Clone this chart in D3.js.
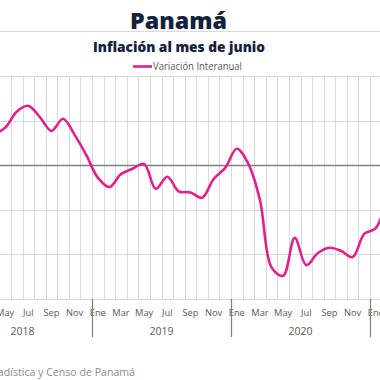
<!DOCTYPE html>
<meta charset="utf-8">
<style>
 body { margin: 0; background: #fff; }
 svg { display: block; font-family: "Open Sans", "DejaVu Sans", sans-serif; }
 .grid line { stroke: #d9d9d9; stroke-width: 1; }
 .grid line.zero { stroke: #808080; stroke-width: 1.5; }
 .serie { fill: none; stroke: #e0218a; stroke-width: 2.6; }
 .mes, .anio { fill: #595959; font-size: 9.3px; text-anchor: middle; }
 .anio { font-size: 10.5px; }
 .divisor { stroke: #7f7f7f; stroke-width: 1.2; }
</style>
<svg width="380" height="380"></svg>
<script src="https://d3js.org/d3.v7.min.js"></script>
<script>

 var meses = ["Ene", "Feb", "Mar", "Abr", "May", "Jun", "Jul", "Ago", "Sep", "Oct", "Nov", "Dic"];
 var anios = [2018, 2019, 2020, 2021];
 var mesesUltimoAnio = 4;
 var etiquetasCada = 2;

 // variación interanual (%) desde marzo 2018
 var inicioSerie = "2018-03";
 var variacion = [0.80, 0.72, 0.84, 1.20, 1.33, 1.08, 0.77, 1.04, 0.68, 0.23,
                  -0.28, -0.49, -0.20, -0.08, 0.03, -0.53, -0.26, -0.59, -0.61, -0.73, -0.31, -0.06,
                  0.37, 0.03, -0.78, -2.29, -2.48, -1.63, -2.24, -1.97, -1.85, -1.92, -2.06, -1.54,
                  -1.41, -0.70];
 var yTicks = [-3, -2, -1, 0, 1, 2];

 var svg = d3.select("svg");

 var periodos = [];
 anios.forEach(function(a, i) {
   var n = i == anios.length - 1 ? mesesUltimoAnio : 12;
   for (var m = 0; m < n; m++) periodos.push({ key: a + "-" + String(m + 1).padStart(2, "0"), anio: a, mes: m });
 });

 // the visible window is a crop of a wider chart: enero 2019 sits at x=92
 var bw = 139 / 12;
 var x0 = 92 - 12 * bw;
 var x = d3.scaleBand()
           .domain(periodos.map(function(d) { return d.key; }))
           .range([x0, x0 + periodos.length * bw])
           .paddingInner(0).paddingOuter(0);

 var y = d3.scaleLinear().domain([-3, 2]).range([299, 76]);

 // titles
 svg.append("text").text("Panamá")
    .attr("x", 178.5).attr("y", 28.5)
    .attr("text-anchor", "middle")
    .attr("textLength", 97).attr("lengthAdjust", "spacingAndGlyphs")
    .style("font-size", "23px").style("font-weight", "800").style("fill", "#14213d");

 svg.append("line").attr("x1", 0).attr("x2", 380).attr("y1", 31.5).attr("y2", 31.5)
    .style("stroke", "#d9d9d9");

 svg.append("text").text("Inflación al mes de junio")
    .attr("x", 179).attr("y", 51.5)
    .attr("text-anchor", "middle")
    .attr("textLength", 172).attr("lengthAdjust", "spacingAndGlyphs")
    .style("font-size", "14px").style("font-weight", "800").style("fill", "#14213d");

 // legend
 var leg = svg.append("g").attr("transform", "translate(133,66.5)");
 leg.append("line").attr("x1", 0).attr("x2", 19).attr("class", "serie");
 leg.append("text").text("Variación Interanual")
    .attr("x", 20).attr("dy", "0.35em")
    .attr("textLength", 89).attr("lengthAdjust", "spacingAndGlyphs")
    .style("font-size", "10px").style("fill", "#595959");

 // grid
 var grid = svg.append("g").attr("class", "grid");
 grid.selectAll("line.v")
     .data(periodos.slice(1))
     .enter().append("line")
     .attr("class", "v")
     .attr("x1", function(d) { return Math.round(x(d.key)) + 0.5; })
     .attr("x2", function(d) { return Math.round(x(d.key)) + 0.5; })
     .attr("y1", y(2)).attr("y2", y(-3));

 grid.selectAll("line.h")
     .data(yTicks)
     .enter().append("line")
     .attr("class", function(d) { return d == 0 ? "h zero" : "h"; })
     .attr("x1", 0).attr("x2", 380)
     .attr("y1", function(d) { return Math.round(y(d)) + 0.5; })
     .attr("y2", function(d) { return Math.round(y(d)) + 0.5; });

 // x axis labels
 svg.selectAll("text.mes")
    .data(periodos.filter(function(d) { return d.mes % etiquetasCada == 0; }))
    .enter().append("text")
    .attr("class", "mes")
    .attr("x", function(d) { return x(d.key) + bw / 2; })
    .attr("y", 316)
    .text(function(d) { return meses[d.mes]; });

 var porAnio = d3.groups(periodos, function(d) { return d.anio; });

 svg.selectAll("text.anio")
    .data(porAnio)
    .enter().append("text")
    .attr("class", "anio")
    .attr("x", function(d) { return x(d[1][0].key) + d[1].length * bw / 2; })
    .attr("y", 334.5)
    .text(function(d) { return d[0]; });

 svg.selectAll("line.divisor")
    .data(porAnio.slice(1))
    .enter().append("line")
    .attr("class", "divisor")
    .attr("x1", function(d) { return Math.round(x(d[1][0].key)) + 0.5; })
    .attr("x2", function(d) { return Math.round(x(d[1][0].key)) + 0.5; })
    .attr("y1", 299).attr("y2", 337);

 // series
 var i0 = periodos.findIndex(function(d) { return d.key == inicioSerie; });
 var puntos = variacion.map(function(v, i) { return { key: periodos[i0 + i].key, v: v }; });

 var line = d3.line()
              .curve(d3.curveCatmullRom.alpha(0.5))
              .x(function(d) { return x(d.key) + bw / 2; })
              .y(function(d) { return y(d.v); });

 svg.append("path").datum(puntos).attr("class", "serie").attr("d", line);

 // source
 svg.append("text").text("Fuente: Instituto Nacional de Estadística y Censo de Panamá")
    .attr("x", 135).attr("y", 376)
    .attr("text-anchor", "end")
    .style("font-size", "10.6px").style("fill", "#8c8c8c");
</script>
